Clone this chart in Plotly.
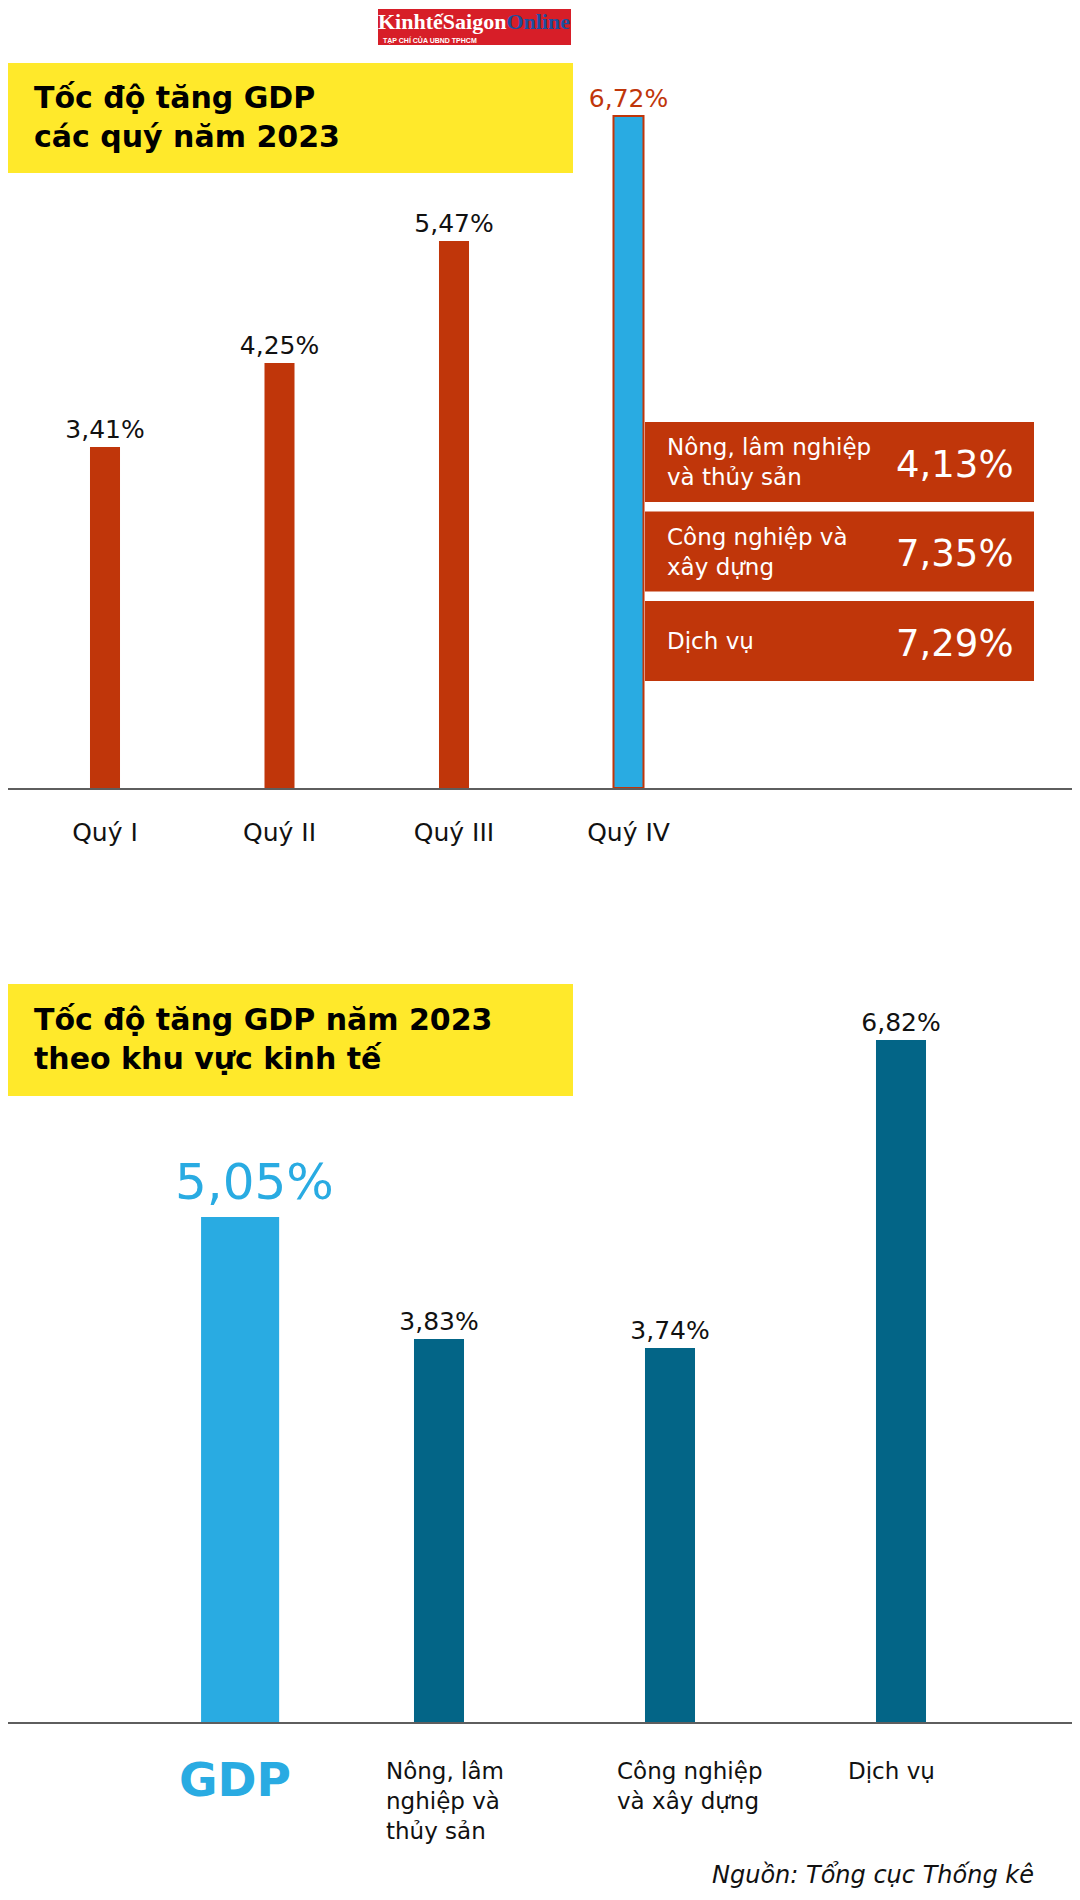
import plotly.graph_objects as go

# data (Tổng cục Thống kê)
quarters = ["Quý I", "Quý II", "Quý III", "Quý IV"]
quarter_growth = [3.41, 4.25, 5.47, 6.72]

q4_sectors = ["Nông, lâm nghiệp<br>và thủy sản", "Công nghiệp và<br>xây dựng", "Dịch vụ"]
q4_sector_growth = [4.13, 7.35, 7.29]

year_cats = ["GDP", "Nông, lâm<br>nghiệp và<br>thủy sản", "Công nghiệp<br>và xây dựng", "Dịch vụ"]
year_growth = [5.05, 3.83, 3.74, 6.82]

# the page body keeps its default 8px margin, so the figure is a bit smaller
PAD = 8
W, H = 1080 - PAD, 1900 - PAD
FONT = "DejaVu Sans"
RED = "#c0360a"
BLUE = "#29abe2"
TEAL = "#036587"
YELLOW = "#ffe92b"
AXIS = "#5e5e5e"


def px(x):
    return (x - PAD) / W


def py(y):
    return 1 - (y - PAD) / H


def pct(v):
    return ("%.2f" % v).replace(".", ",") + "%"


fig = go.Figure()

# top chart: quarterly growth
fig.add_trace(go.Bar(
    x=quarters, y=quarter_growth, xaxis="x", yaxis="y",
    width=0.172,
    marker=dict(color=[RED, RED, RED, BLUE],
                line=dict(color=RED, width=[0, 0, 0, 2])),
    texttemplate="%{y:.2f}%", textposition="outside",
    textfont=dict(family=FONT, size=25, color=["#111", "#111", "#111", RED]),
    constraintext="none", cliponaxis=False, hoverinfo="skip",
))

# bottom chart: 2023 by sector
fig.add_trace(go.Bar(
    x=year_cats[:1], y=year_growth[:1], xaxis="x2", yaxis="y2",
    width=0.338, offset=-0.03,
    marker=dict(color=BLUE, line=dict(width=0)),
    hoverinfo="skip",
))
fig.add_trace(go.Bar(
    x=year_cats[1:], y=year_growth[1:], xaxis="x2", yaxis="y2",
    width=0.2165,
    marker=dict(color=TEAL, line=dict(width=0)),
    texttemplate="%{y:.2f}%", textposition="outside",
    textfont=dict(family=FONT, size=25, color="#111"),
    constraintext="none", cliponaxis=False, hoverinfo="skip",
))

shapes = []
annotations = []

# big GDP value, sits a little right of its bar
annotations.append(dict(xref="x2", yref="y2", x=year_cats[0], y=year_growth[0],
                        xshift=46, yshift=35, xanchor="center", yanchor="middle",
                        showarrow=False, text=pct(year_growth[0]),
                        font=dict(family=FONT, size=50, color=BLUE)))

# yellow title boxes
for top, bottom, text in [(63, 173, "Tốc độ tăng GDP<br>các quý năm 2023"),
                          (984, 1096, "Tốc độ tăng GDP năm 2023<br>theo khu vực kinh tế")]:
    shapes.append(dict(type="rect", xref="paper", yref="paper", layer="below",
                       x0=px(0), x1=px(573), y0=py(bottom), y1=py(top),
                       fillcolor=YELLOW, line=dict(width=0)))
    annotations.append(dict(xref="paper", yref="paper", x=px(32), y=py((top + bottom) / 2 - 1),
                            xanchor="left", yanchor="middle", align="left", showarrow=False,
                            text="<b>%s</b>" % text,
                            font=dict(family=FONT, size=30, color="#000")))

# Q4 sector breakdown boxes
for i, (name, val) in enumerate(zip(q4_sectors, q4_sector_growth)):
    top = 422 + i * 89.5
    shapes.append(dict(type="rect", xref="paper", yref="paper",
                       x0=px(645), x1=px(1034), y0=py(top + 80), y1=py(top),
                       fillcolor=RED, line=dict(width=0)))
    annotations.append(dict(xref="paper", yref="paper", x=px(665), y=py(top + 40),
                            xanchor="left", yanchor="middle", align="left", showarrow=False,
                            text=name, font=dict(family=FONT, size=23, color="white")))
    annotations.append(dict(xref="paper", yref="paper", x=px(1016), y=py(top + 42),
                            xanchor="right", yanchor="middle", showarrow=False,
                            text=pct(val), font=dict(family=FONT, size=37, color="white")))

# bottom category labels
annotations.append(dict(xref="x2", yref="paper", x=year_cats[0], y=py(1779),
                        xshift=27, xanchor="center", yanchor="middle", showarrow=False,
                        text="<b>GDP</b>", font=dict(family=FONT, size=47, color=BLUE)))
for cat in year_cats[1:]:
    annotations.append(dict(xref="x2", yref="paper", x=cat, y=py(1756),
                            xshift=-55, xanchor="left", yanchor="top", align="left",
                            showarrow=False, text=cat,
                            font=dict(family=FONT, size=23, color="#111")))

# source
annotations.append(dict(xref="paper", yref="paper", x=px(1036), y=py(1875),
                        xanchor="right", yanchor="middle", showarrow=False,
                        text="<i>Nguồn: Tổng cục Thống kê</i>",
                        font=dict(family=FONT, size=24, color="#111")))

# masthead logo
shapes.append(dict(type="rect", xref="paper", yref="paper",
                   x0=px(378), x1=px(571), y0=py(45), y1=py(9),
                   fillcolor="#d71e28", line=dict(width=0)))
annotations.append(dict(xref="paper", yref="paper", x=px(474), y=py(22),
                        xanchor="center", yanchor="middle", showarrow=False,
                        text="<b>KinhtếSaigon<span style='color:#1d4f9e'>Online</span></b>",
                        font=dict(family="Liberation Serif", size=22, color="white")))
annotations.append(dict(xref="paper", yref="paper", x=px(381), y=py(40),
                        xanchor="left", yanchor="middle", showarrow=False,
                        text="<b>TẠP CHÍ CỦA UBND TPHCM</b>",
                        font=dict(family="Liberation Sans Narrow, Liberation Sans", size=7, color="white")))

c_top, step_top = 105 - PAD, 174.5
c_bot, step_bot = 208 - PAD, 231

fig.update_layout(
    width=W, height=H,
    margin=dict(l=0, r=0, t=0, b=0),
    paper_bgcolor="white", plot_bgcolor="white",
    showlegend=False, barmode="overlay", separators=",.",
    xaxis=dict(domain=[0, 1], anchor="y", type="category",
               range=[-c_top / step_top, (W - c_top) / step_top],
               showline=True, linecolor=AXIS, linewidth=2, showgrid=False, zeroline=False,
               ticks="", ticklabelstandoff=21, fixedrange=True,
               tickfont=dict(family=FONT, size=25, color="#111")),
    yaxis=dict(domain=[py(788), py(88)], anchor="x", range=[0, 7], visible=False),
    xaxis2=dict(domain=[0, 1], anchor="y2", type="category",
                range=[-c_bot / step_bot, (W - c_bot) / step_bot],
                showline=True, linecolor=AXIS, linewidth=2, showgrid=False, zeroline=False,
                ticks="", showticklabels=False),
    yaxis2=dict(domain=[py(1722), py(1022)], anchor="x2", range=[0, 7], visible=False),
    shapes=shapes,
    annotations=annotations,
)

fig.write_html("out.html")
